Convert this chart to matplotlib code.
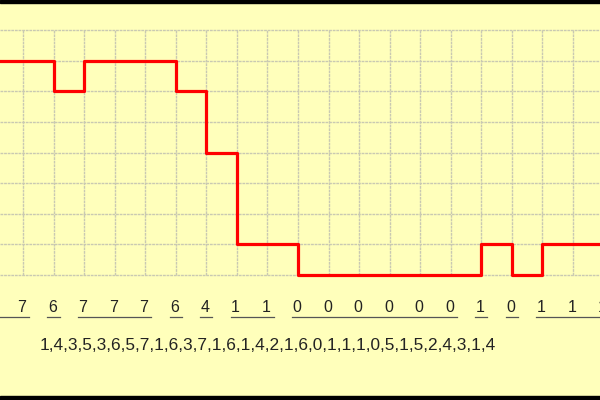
import matplotlib.pyplot as plt
from matplotlib.patches import Rectangle

# sample positions (grid columns) and their values, first one is off the left edge
samples = list(range(-1, 20))
values = [7, 7, 6, 7, 7, 7, 6, 4, 1, 1, 0, 0, 0, 0, 0, 0, 1, 0, 1, 1, 1]
# runs of equal values that get an underline (first/last sample index)
runs = [(-1, 0), (1, 1), (2, 4), (5, 5), (6, 6), (7, 8), (9, 14), (15, 15), (16, 16), (17, 20)]
encoded = "1,4,3,5,3,6,5,7,1,6,3,7,1,6,1,4,2,1,6,0,1,1,1,0,5,1,5,2,4,3,1,4"
levels = range(0, 9)

plt.rcParams['font.family'] = ['Liberation Sans', 'DejaVu Sans']

fig = plt.figure(figsize=(6, 4), dpi=100)
fig.patch.set_facecolor('#FFFFBB')
ax = fig.add_axes([0, 0, 1, 1])
ax.set_facecolor('#FFFFBB')
ax.axis('off')

dx = 550 / 18.0
dy = 245 / 8.0
x0 = -23 / dx
x1 = (600 - 23) / dx
ax.set_xlim(x0, x1)
ax.set_ylim((275 - 400) / dy, 275 / dy)

# grid
for lv in levels:
    ax.plot([x0, x1], [lv, lv], color='#c9c9b2', lw=1, ls=(0, (2, 0.6)), zorder=1)
for s in samples:
    ax.plot([s, s], [0, 8], color='#c9c9b2', lw=1, ls=(0, (2, 0.6)), zorder=1)

# the signal
ax.step(samples, values, where='post', color='#ff0000', lw=2.3, zorder=3)

# value labels under each grid column
lab_y = (275 - 307) / dy
line_y = (275 - 317) / dy
for s, v in zip(samples, values):
    if s >= 0:
        ax.text(s - 0.04, lab_y, str(v), ha='center', va='center',
                fontsize=11.5, color='#222222')
for a, b in runs:
    ax.plot([a - 0.2, b + 0.2], [line_y, line_y], color='#555555', lw=0.9)

ax.text(40 / dx + x0, (275 - 346) / dy, encoded, ha='left', va='center',
        fontsize=12.4, color='#222222')

# black bars top and bottom
fig.patches.append(Rectangle((0, 397 / 400), 1, 3 / 400, transform=fig.transFigure,
                             color='black', zorder=5))
fig.patches.append(Rectangle((0, 0), 1, 4 / 400, transform=fig.transFigure,
                             color='black', zorder=5))

plt.savefig('out.png', dpi=100, facecolor=fig.get_facecolor())
